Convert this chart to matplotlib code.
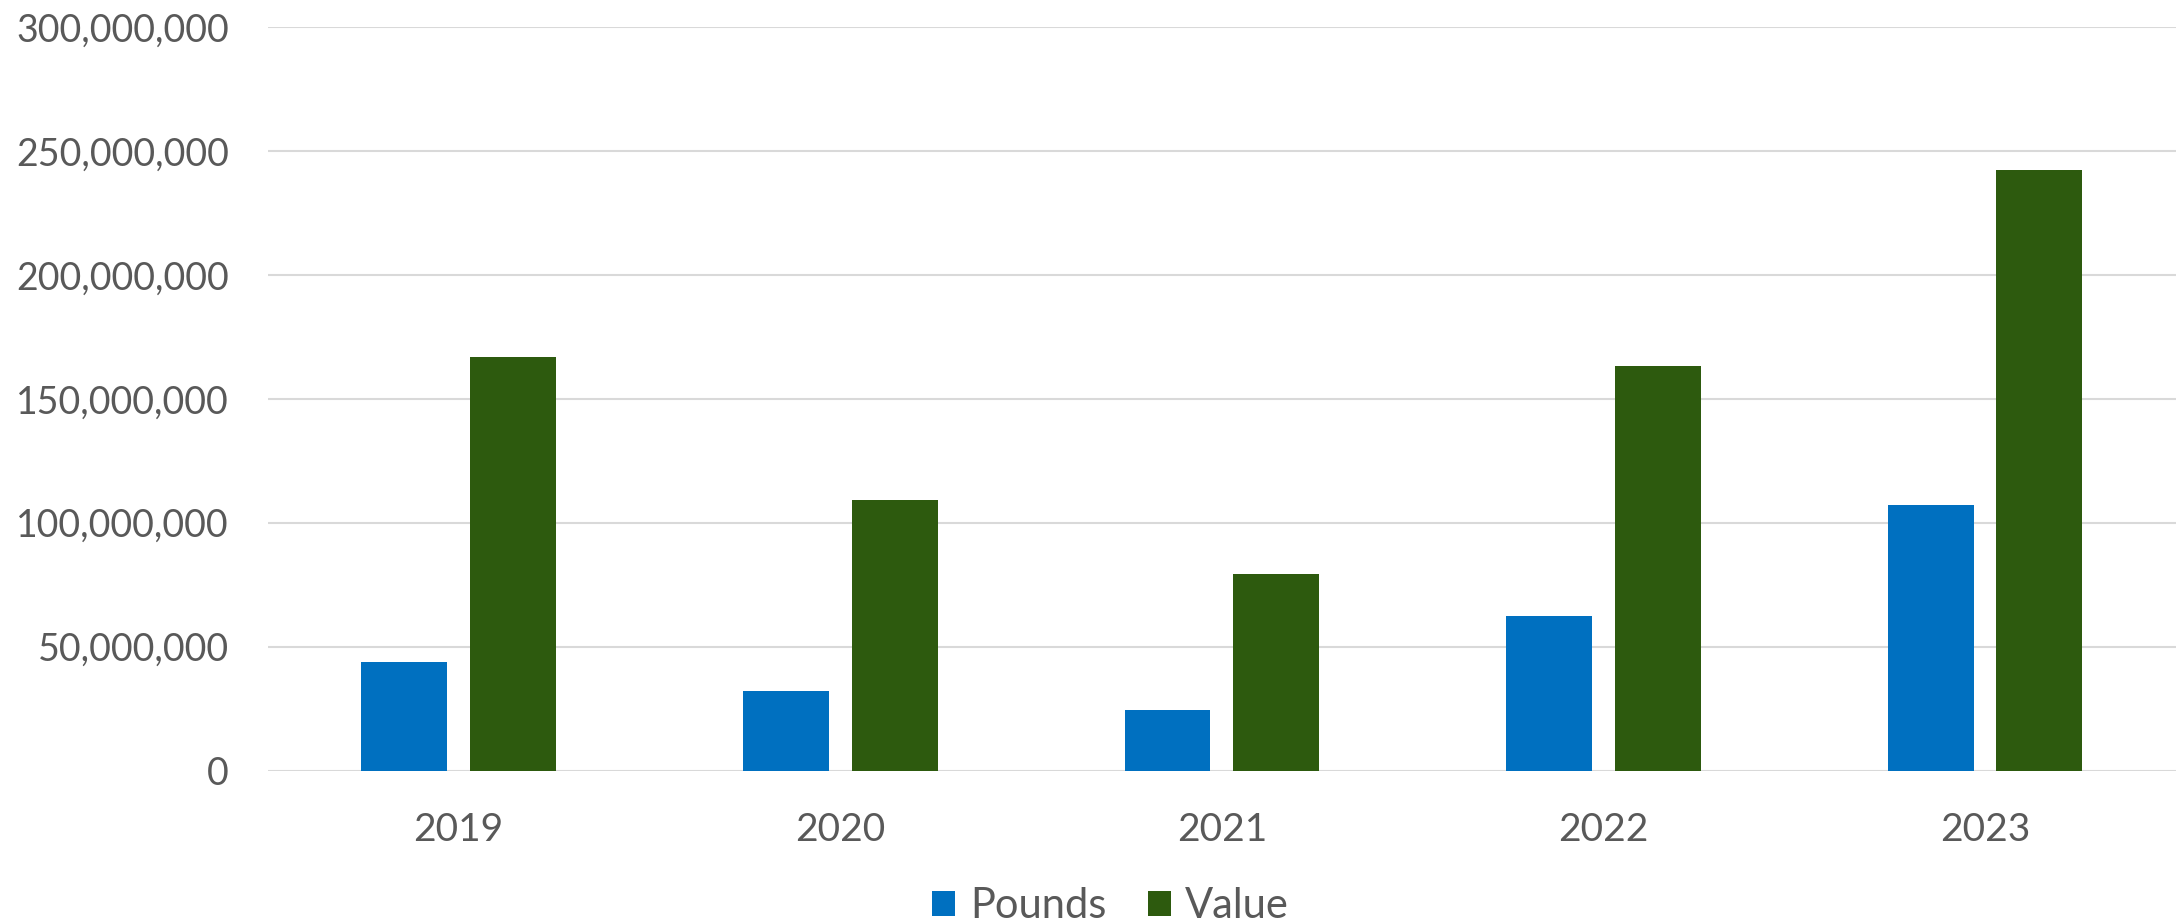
import matplotlib
matplotlib.use("Agg")
import matplotlib.pyplot as plt
from matplotlib.ticker import FuncFormatter
import numpy as np

years = ["2019", "2020", "2021", "2022", "2023"]
pounds = [43.7e6, 32.3e6, 24.4e6, 62.3e6, 107.0e6]
value = [166.9e6, 109.2e6, 79.3e6, 163.1e6, 242.1e6]

plt.rcParams["font.family"] = ["Lato", "DejaVu Sans"]
TEXT = "#595959"

fig = plt.figure(figsize=(21.78, 9.23), dpi=100)
ax = fig.add_axes([0.123, 0.165, 0.876, 0.806])

x = np.arange(len(years))
w = 0.225
off = 0.1425
ax.bar(x - off, pounds, w, color="#0070C0", label="Pounds", zorder=3)
ax.bar(x + off, value, w, color="#2D5A0E", label="Value", zorder=3)

ax.set_xlim(-0.5, len(years) - 0.5)
ax.set_ylim(0, 300e6)
ax.set_yticks(np.arange(0, 300e6 + 1, 50e6))
ax.yaxis.set_major_formatter(FuncFormatter(lambda v, p: f"{int(v):,}"))
ax.set_xticks(x)
ax.set_xticklabels(years)
ax.grid(axis="y", color="#d9d9d9", linewidth=1.5, zorder=0)
for s in ax.spines.values():
    s.set_visible(False)
ax.tick_params(axis="both", length=0, labelcolor=TEXT)
ax.tick_params(axis="y", labelsize=27, pad=28)
ax.tick_params(axis="x", labelsize=28, pad=30)

leg = fig.legend(loc="center", bbox_to_anchor=(0.51, 0.018), ncol=2, frameon=False,
                 fontsize=30, handlelength=0.55, handleheight=0.55, handletextpad=0.35,
                 columnspacing=1.0)
for t in leg.get_texts():
    t.set_color(TEXT)

fig.savefig("out.png", dpi=100)
